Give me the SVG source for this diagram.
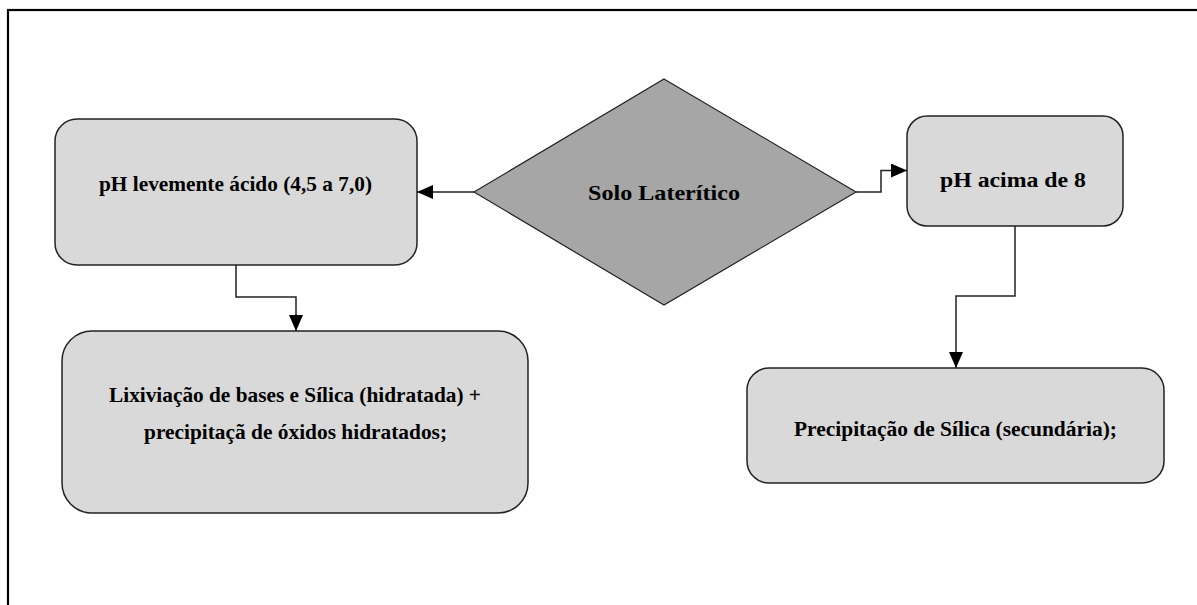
<svg xmlns="http://www.w3.org/2000/svg" width="1197" height="605" viewBox="0 0 1197 605">
  <style>
    .box { fill: #d9d9d9; stroke: #222; stroke-width: 1.5; }
    .dia { fill: #a6a6a6; stroke: #222; stroke-width: 1.2; }
    .lbl { font-family: 'Liberation Serif', 'DejaVu Serif', serif; font-weight: 700; font-size: 22px; fill: #000; text-anchor: middle; }
    .con { fill: none; stroke: #222; stroke-width: 1.5; }
  </style>
  <defs>
    <marker id="ah" markerWidth="16" markerHeight="14" refX="16" refY="7" orient="auto" markerUnits="userSpaceOnUse">
      <path d="M0,0 L16,7 L0,14 Z" fill="#000"/>
    </marker>
  </defs>
  <rect width="1197" height="605" fill="#fff"/>
  <rect x="8" y="10" width="1220" height="640" fill="none" stroke="#000" stroke-width="2.2"/>

  <g id="connectors">
    <path class="con" d="M474,192 L417,192" marker-end="url(#ah)"/>
    <path class="con" d="M856,192 L881,192 L881,170.5 L907,170.5" marker-end="url(#ah)"/>
    <path class="con" d="M236,265 L236,297 L296,297 L296,331" marker-end="url(#ah)"/>
    <path class="con" d="M1015,226 L1015,296 L956,296 L956,368" marker-end="url(#ah)"/>
  </g>

  <g id="solo-lateritico">
    <polygon class="dia" points="664,79 856,192 664,305 474,192"/>
    <text class="lbl" x="664" y="200" textLength="152" lengthAdjust="spacingAndGlyphs">Solo Laterítico</text>
  </g>

  <g id="ph-acido">
    <rect class="box" x="55" y="119" width="362" height="146" rx="22" ry="22"/>
    <text class="lbl" x="235.5" y="191" textLength="273" lengthAdjust="spacingAndGlyphs">pH levemente ácido (4,5 a 7,0)</text>
  </g>

  <g id="ph-acima">
    <rect class="box" x="907" y="116" width="216" height="110" rx="20" ry="20"/>
    <text class="lbl" x="1013" y="187" textLength="146" lengthAdjust="spacingAndGlyphs">pH acima de 8</text>
  </g>

  <g id="lixiviacao">
    <rect class="box" x="62" y="331" width="466" height="182" rx="30" ry="30"/>
    <text class="lbl" x="295" y="402" textLength="372" lengthAdjust="spacingAndGlyphs">Lixiviação de bases e Sílica (hidratada) +</text>
    <text class="lbl" x="295.5" y="438.5" textLength="303" lengthAdjust="spacingAndGlyphs">precipitaçã de óxidos hidratados;</text>
  </g>

  <g id="precipitacao">
    <rect class="box" x="747" y="368" width="417" height="115" rx="22" ry="22"/>
    <text class="lbl" x="955.5" y="436" textLength="323" lengthAdjust="spacingAndGlyphs">Precipitação de Sílica (secundária);</text>
  </g>
</svg>
